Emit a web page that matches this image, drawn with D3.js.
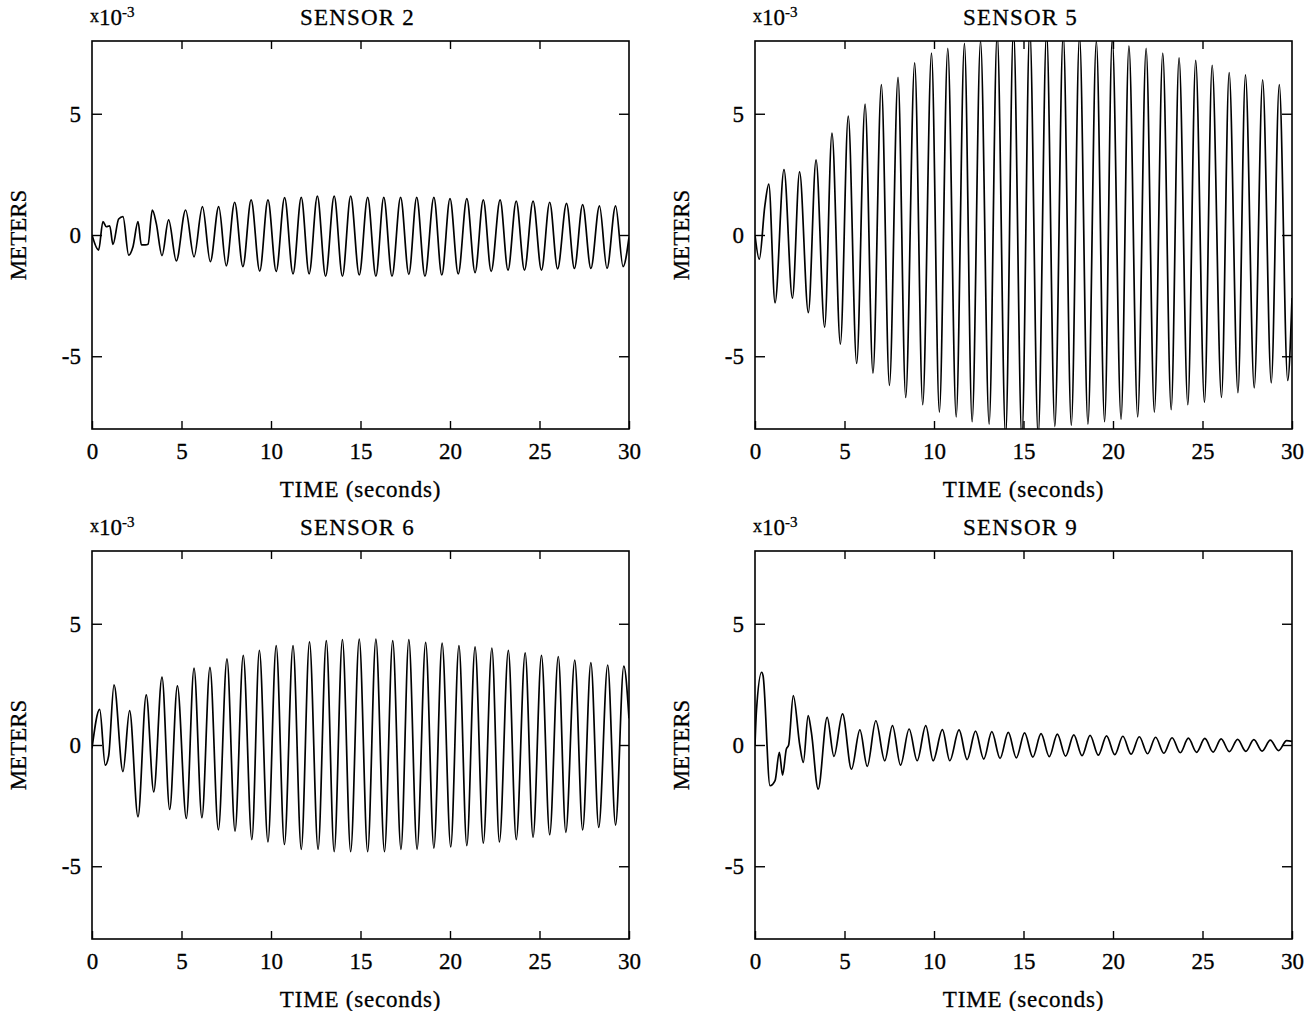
<!DOCTYPE html>
<html>
<head>
<meta charset="utf-8">
<script src="https://cdn.jsdelivr.net/npm/d3@7"></script>
<style>
    body { margin: 0; background: #fff; }
    text { font-family: "Liberation Serif", "DejaVu Serif", serif; fill: #000; stroke: #000; stroke-width: 0.3px; }
</style>
</head>
<body>
<div id="chart"></div>
<script>
'use strict';

// panel titles and axis ticks
var titles = ['SENSOR 2', 'SENSOR 5', 'SENSOR 6', 'SENSOR 9']
var timeTicks = [0, 5, 10, 15, 20, 25, 30]
var meterTicks = [-5, 0, 5]

// [time (s), displacement (x10^-3 m)] -- peaks / troughs
var sensor2 = [[0, 0], [0.37, -0.62], [0.61, 0.55], [0.8, 0.34], [0.99, 0.38], [1.17, -0.39], [1.49, 0.66], [1.73, 0.76],
    [2.05, -0.83], [2.29, -0.48], [2.57, 0.55], [2.76, -0.41], [2.98, -0.41], [3.13, -0.38], [3.37, 1.03], [3.59, 0.48],
    [3.91, -0.85], [4.28, 0.62], [4.71, -1.07], [5.23, 1.03], [5.70, -0.9], [6.17, 1.17], [6.61, -1.1], [7.08, 1.17],
    [7.50, -1.27], [7.97, 1.35], [8.43, -1.3], [8.89, 1.45], [9.37, -1.49], [9.83, 1.45], [10.29, -1.5], [10.76, 1.54],
    [11.23, -1.6], [11.69, 1.55], [12.13, -1.6], [12.59, 1.6], [13.05, -1.7], [13.53, 1.6], [13.99, -1.7], [14.45, 1.6],
    [14.93, -1.65], [15.40, 1.55], [15.86, -1.7], [16.30, 1.55], [16.76, -1.7], [17.24, 1.55], [17.70, -1.62], [18.14, 1.55],
    [18.60, -1.7], [19.10, 1.55], [19.54, -1.65], [20.00, 1.5], [20.46, -1.6], [20.94, 1.5], [21.40, -1.55], [21.86, 1.45],
    [22.30, -1.5], [22.80, 1.45], [23.24, -1.45], [23.70, 1.4], [24.16, -1.45], [24.64, 1.4], [25.11, -1.45], [25.57, 1.35],
    [26.01, -1.4], [26.51, 1.3], [26.95, -1.38], [27.41, 1.25], [27.87, -1.38], [28.35, 1.2], [28.77, -1.38], [29.25, 1.2],
    [29.67, -1.3], [30, -0.1]]

var sensor5 = [[0, 0], [0.24, -1.0], [0.55, 1.2], [0.77, 2.1], [1.12, -2.8], [1.62, 2.7], [2.09, -2.6], [2.49, 2.6],
    [2.98, -3.2], [3.41, 3.1], [3.89, -3.8], [4.30, 4.2], [4.77, -4.5], [5.21, 4.9], [5.68, -5.3], [6.15, 5.4],
    [6.59, -5.7], [7.06, 6.2], [7.51, -6.2], [7.99, 6.5], [8.42, -6.7], [8.92, 7.1], [9.37, -7.0], [9.86, 7.5],
    [10.30, -7.3], [10.77, 7.7], [11.24, -7.5], [11.70, 7.9], [12.13, -7.7], [12.60, 8.0], [13.08, -7.8], [13.53, 8.3],
    [14.00, -8.3], [14.44, 8.5], [14.91, -8.4], [15.35, 8.5], [15.82, -8.3], [16.29, 8.4], [16.75, -7.9], [17.22, 8.3],
    [17.67, -7.85], [18.13, 8.2], [18.60, -7.8], [19.07, 8.0], [19.53, -7.7], [19.96, 8.1], [20.45, -7.6], [20.89, 7.8],
    [21.38, -7.5], [21.85, 7.7], [22.31, -7.3], [22.78, 7.5], [23.25, -7.2], [23.69, 7.3], [24.18, -7.0], [24.62, 7.2],
    [25.11, -6.9], [25.54, 7.0], [26.06, -6.7], [26.49, 6.7], [26.98, -6.5], [27.40, 6.6], [27.89, -6.3], [28.36, 6.4],
    [28.84, -6.1], [29.29, 6.2], [29.76, -6.0], [30, -2.6]]

var sensor6 = [[0, -0.14], [0.43, 1.47], [0.74, -0.83], [0.93, -0.45], [1.23, 2.48], [1.73, -1.1], [2.10, 1.42], [2.57, -2.96],
    [3.03, 2.07], [3.45, -1.93], [3.91, 2.8], [4.34, -2.66], [4.77, 2.44], [5.27, -3.03], [5.70, 3.17], [6.14, -3.0],
    [6.59, 3.2], [7.06, -3.5], [7.54, 3.55], [7.99, -3.55], [8.45, 3.7], [8.93, -3.9], [9.35, 3.9], [9.83, -4.0],
    [10.29, 4.1], [10.75, -4.1], [11.23, 4.1], [11.69, -4.3], [12.15, 4.25], [12.63, -4.3], [13.09, 4.3], [13.53, -4.4],
    [13.99, 4.35], [14.45, -4.4], [14.93, 4.37], [15.40, -4.4], [15.86, 4.37], [16.34, -4.4], [16.80, 4.3], [17.26, -4.3],
    [17.70, 4.35], [18.16, -4.3], [18.64, 4.23], [19.10, -4.25], [19.56, 4.2], [20.04, -4.2], [20.50, 4.1], [20.94, -4.15],
    [21.40, 4.05], [21.86, -4.05], [22.34, 4.0], [22.76, -4.0], [23.26, 3.9], [23.70, -3.9], [24.20, 3.8], [24.64, -3.8],
    [25.11, 3.7], [25.57, -3.7], [26.05, 3.65], [26.47, -3.6], [26.97, 3.5], [27.41, -3.5], [27.87, 3.4], [28.31, -3.4],
    [28.81, 3.3], [29.25, -3.3], [29.71, 3.25], [30, 1.1]]

var sensor9 = [[0, 0], [0.08, 1.4], [0.37, 3.0], [0.45, 2.86], [0.84, -1.68], [1.12, -1.47], [1.36, -0.3], [1.54, -1.24],
    [1.75, -0.17], [1.88, 0], [2.14, 2.04], [2.50, 0], [2.70, -0.72], [2.97, 1.21], [3.15, 0.52], [3.53, -1.82],
    [4.03, 1.14], [4.41, -0.47], [4.89, 1.28], [5.39, -1.0], [5.86, 0.62], [6.27, -0.88], [6.75, 1.0], [7.25, -0.65],
    [7.68, 0.8], [8.13, -0.83], [8.61, 0.66], [9.06, -0.65], [9.54, 0.8], [9.95, -0.65], [10.47, 0.63], [10.88, -0.65],
    [11.40, 0.62], [11.85, -0.6], [12.32, 0.57], [12.78, -0.58], [13.23, 0.55], [13.69, -0.55], [14.15, 0.52], [14.60, -0.53],
    [15.06, 0.5], [15.52, -0.5], [15.98, 0.47], [16.44, -0.48], [16.89, 0.45], [17.35, -0.46], [17.81, 0.42], [18.27, -0.44],
    [18.72, 0.4], [19.18, -0.42], [19.64, 0.38], [20.10, -0.4], [20.55, 0.36], [21.01, -0.38], [21.47, 0.34], [21.93, -0.36],
    [22.38, 0.32], [22.84, -0.34], [23.30, 0.3], [23.76, -0.32], [24.21, 0.28], [24.67, -0.3], [25.13, 0.27], [25.59, -0.29],
    [26.04, 0.25], [26.50, -0.27], [26.96, 0.23], [27.42, -0.26], [27.87, 0.22], [28.33, -0.25], [28.79, 0.2], [29.25, -0.23],
    [29.70, 0.18], [30, 0.15]]

var series = [sensor2, sensor5, sensor6, sensor9]

var W = 1311, H = 1011
var plotW = 537, plotH = 388
var origins = [[92, 41], [755, 41], [92, 551], [755, 551]]

var svg = d3.select('#chart').append('svg').attr('width', W).attr('height', H)

var x = d3.scaleLinear().domain([0, 30]).range([0, plotW])
var y = d3.scaleLinear().domain([-8, 8]).range([plotH, 0])

var line = d3.line()
    .x(function(d) { return x(d[0]) })
    .y(function(d) { return y(d[1]) })
    .curve(d3.curveMonotoneX)

series.forEach(function(data, i) {
    var g = svg.append('g')
        .attr('transform', 'translate(' + origins[i][0] + ',' + origins[i][1] + ')')

    g.append('clipPath').attr('id', 'clip' + i)
        .append('rect').attr('width', plotW).attr('height', plotH)

    g.append('path')
        .datum(data)
        .attr('d', line)
        .attr('clip-path', 'url(#clip' + i + ')')
        .attr('fill', 'none')
        .attr('stroke', '#000')
        .attr('stroke-width', 1.7)
        .attr('stroke-linejoin', 'round')

    // ticks point inward on all four sides
    var bottom = g.append('g')
        .attr('transform', 'translate(0,' + plotH + ')')
        .call(d3.axisBottom(x).tickValues(timeTicks).tickSize(-8).tickPadding(14))
    var top = g.append('g')
        .call(d3.axisTop(x).tickValues(timeTicks.slice(1, -1)).tickSize(-8).tickFormat(''))
    var left = g.append('g')
        .call(d3.axisLeft(y).tickValues(meterTicks).tickSize(-10).tickPadding(11)
            .tickFormat(function(d) { return String(d) }))
    var right = g.append('g')
        .attr('transform', 'translate(' + plotW + ',0)')
        .call(d3.axisRight(y).tickValues(meterTicks).tickSize(-10).tickFormat(''))

    ;[bottom, top, left, right].forEach(function(a) {
        a.select('.domain').remove()
        a.selectAll('line').attr('stroke', '#000').attr('stroke-width', 1.4)
        a.selectAll('text').style('font-family', '"Liberation Serif", serif').style('font-size', '23px')
            .attr('fill', '#000').attr('stroke', '#000').attr('stroke-width', 0.3)
    })

    g.append('rect')
        .attr('width', plotW).attr('height', plotH)
        .attr('fill', 'none').attr('stroke', '#000').attr('stroke-width', 1.6)

    g.append('text')
        .attr('x', plotW / 2 - 3).attr('y', -16)
        .attr('text-anchor', 'middle')
        .style('font-size', '23px')
        .style('letter-spacing', '1.2px')
        .text(titles[i])

    var mult = g.append('text').attr('x', -2).attr('y', -16).style('font-size', '23px')
    mult.append('tspan').style('font-size', '18px').attr('dy', -3).text('x')
    mult.append('tspan').attr('dy', 3).text('10')
    mult.append('tspan').style('font-size', '15px').attr('dy', -8).text('-3')

    g.append('text')
        .attr('transform', 'translate(' + (-66) + ',' + (plotH / 2) + ') rotate(-90)')
        .attr('text-anchor', 'middle')
        .style('font-size', '23px')
        .text('METERS')

    g.append('text')
        .attr('x', plotW / 2).attr('y', plotH + 68)
        .attr('text-anchor', 'middle')
        .style('font-size', '23px')
        .style('letter-spacing', '0.8px')
        .text('TIME (seconds)')
})
</script>
</body>
</html>
